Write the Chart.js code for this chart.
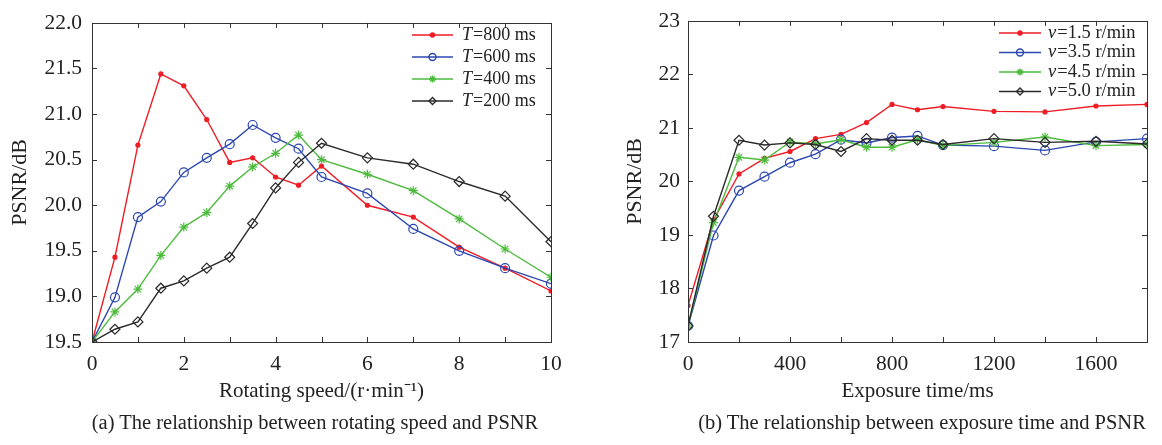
<!DOCTYPE html>
<html>
<head>
<meta charset="utf-8">
<script src="https://cdn.jsdelivr.net/npm/chart.js@4.4.1/dist/chart.umd.min.js"></script>
<style>
  body { margin: 0; background: #fff; width: 1162px; height: 445px; position: relative; overflow: hidden; font-family: "Liberation Serif", serif; }
  .box { position: absolute; top: 0; height: 412px; width: 581px; }
  #boxA { left: 0; }
  #boxB { left: 581px; }
  .cap { position: absolute; top: 411px; font-size: 20.5px; color: #222; white-space: nowrap; transform: translateX(-50%); }
</style>
</head>
<body>
<div class="box" id="boxA"><canvas id="chartA"></canvas></div>
<div class="box" id="boxB"><canvas id="chartB"></canvas></div>
<div class="cap" style="left:315px">(a) The relationship between rotating speed and PSNR</div>
<div class="cap" style="left:922px">(b) The relationship between exposure time and PSNR</div>
<script>
// (a) rotating speed vs PSNR
const speedA = [0, 0.5, 1, 1.5, 2, 2.5, 3, 3.5, 4, 4.5, 5, 6, 7, 8, 9, 10];
const t800 = [18.5, 19.43, 20.66, 21.44, 21.31, 20.94, 20.47, 20.52, 20.31, 20.22, 20.43, 20.0, 19.87, 19.54, 19.31, 19.06];
const t600 = [18.5, 18.99, 19.87, 20.04, 20.36, 20.52, 20.67, 20.88, 20.74, 20.62, 20.31, 20.13, 19.74, 19.5, 19.31, 19.14];
const t400 = [18.5, 18.83, 19.08, 19.45, 19.76, 19.92, 20.21, 20.42, 20.57, 20.77, 20.5, 20.34, 20.16, 19.85, 19.52, 19.21];
const t200 = [18.5, 18.64, 18.72, 19.09, 19.17, 19.31, 19.43, 19.8, 20.19, 20.47, 20.68, 20.52, 20.45, 20.26, 20.1, 19.6];
const legendA = ["=800 ms", "=600 ms", "=400 ms", "=200 ms"];
const yTickLabelsA = ["19.5", "19.0", "19.5", "20.0", "20.5", "21.0", "21.5", "22.0"];
const xTickLabelsA = ["0", "", "2", "", "4", "", "6", "", "8", "", "10"];

// (b) exposure time vs PSNR
const timeB = [0, 100, 200, 300, 400, 500, 600, 700, 800, 900, 1000, 1200, 1400, 1600, 1800];
const v15 = [17.68, 19.28, 20.14, 20.43, 20.56, 20.8, 20.88, 21.1, 21.44, 21.34, 21.4, 21.31, 21.3, 21.41, 21.44];
const v35 = [17.3, 18.99, 19.83, 20.09, 20.35, 20.51, 20.78, 20.72, 20.82, 20.85, 20.68, 20.66, 20.58, 20.74, 20.8];
const v45 = [17.3, 19.23, 20.45, 20.4, 20.74, 20.7, 20.78, 20.64, 20.64, 20.78, 20.67, 20.73, 20.83, 20.67, 20.69];
const v50 = [17.3, 19.35, 20.77, 20.68, 20.72, 20.69, 20.56, 20.8, 20.77, 20.77, 20.69, 20.8, 20.73, 20.75, 20.7];
const legendB = ["=1.5 r/min", "=3.5 r/min", "=4.5 r/min", "=5.0 r/min"];
const yTickLabelsB = ["17", "18", "19", "20", "21", "22", "23"];
const xTickLabelsB = ["0", "", "400", "", "800", "", "1200", "", "1600", ""];

const RED = "#ee1c25", BLUE = "#2b46b0", GREEN = "#4cbb3c", BLACK = "#2a2a2a";
const FONT = "Liberation Serif";
const TXT = "#222";

function pts(xs, ys) {
  return xs.map((x, i) => ({ x: x, y: ys[i] }));
}

// style of each series: colour + marker
const STYLES = [
  { color: RED, pointStyle: "circle", pointRadius: 2, fill: true, order: 4 },
  { color: BLUE, pointStyle: "circle", pointRadius: 4.5, fill: false, order: 3 },
  { color: GREEN, pointStyle: "star", pointRadius: 4.5, fill: false, order: 2 },
  { color: BLACK, pointStyle: "rectRot", pointRadius: 5, fill: false, order: 1 },
];

function makeDatasets(xs, series) {
  return series.map((ys, i) => {
    const s = STYLES[i];
    return {
      data: pts(xs, ys),
      borderColor: s.color,
      backgroundColor: s.fill ? s.color : "rgba(0,0,0,0)",
      pointBorderColor: s.color,
      pointBackgroundColor: s.fill ? s.color : "rgba(0,0,0,0)",
      pointStyle: s.pointStyle,
      pointRadius: s.pointRadius,
      pointHoverRadius: s.pointRadius,
      pointBorderWidth: 1.2,
      borderWidth: 1.4,
      tension: 0,
      fill: false,
      order: s.order,
    };
  });
}

// MATLAB-like box with inward ticks on all four sides
const frameTicks = {
  id: "frameTicks",
  afterDatasetsDraw(chart) {
    const { ctx, chartArea: a, scales } = chart;
    const len = 5;
    ctx.save();
    ctx.strokeStyle = "#333";
    ctx.lineWidth = 1;
    ctx.beginPath();
    scales.x.ticks.forEach(t => {
      const px = Math.round(scales.x.getPixelForValue(t.value)) + 0.5;
      ctx.moveTo(px, a.bottom); ctx.lineTo(px, a.bottom - len);
      ctx.moveTo(px, a.top); ctx.lineTo(px, a.top + len);
    });
    scales.y.ticks.forEach(t => {
      const py = Math.round(scales.y.getPixelForValue(t.value)) + 0.5;
      ctx.moveTo(a.left, py); ctx.lineTo(a.left + len, py);
      ctx.moveTo(a.right, py); ctx.lineTo(a.right - len, py);
    });
    ctx.stroke();
    ctx.strokeRect(Math.round(a.left) + 0.5, Math.round(a.top) + 0.5, Math.round(a.width), Math.round(a.height));
    ctx.restore();
  },
};

// legend with italic variable name
const mlLegend = {
  id: "mlLegend",
  afterDraw(chart, args, opts) {
    const ctx = chart.ctx;
    ctx.save();
    chart.data.datasets.forEach((ds, i) => {
      const y = opts.y + i * opts.gap;
      const x0 = opts.x;
      ctx.strokeStyle = ds.borderColor;
      ctx.lineWidth = 1.4;
      ctx.beginPath();
      ctx.moveTo(x0, y); ctx.lineTo(x0 + opts.lineLen, y);
      ctx.stroke();
      ctx.fillStyle = ds.pointBackgroundColor;
      ctx.strokeStyle = ds.pointBorderColor;
      Chart.helpers.drawPoint(ctx, { pointStyle: ds.pointStyle, radius: Math.min(ds.pointRadius, 3.5), rotation: 0, borderWidth: 1.2 }, x0 + opts.lineLen / 2, y);
      ctx.fillStyle = TXT;
      ctx.textBaseline = "middle";
      ctx.font = "italic " + opts.size + "px '" + FONT + "'";
      const tx = x0 + opts.lineLen + opts.textGap;
      ctx.fillText(opts.varName, tx, y);
      const w = ctx.measureText(opts.varName).width;
      ctx.font = opts.size + "px '" + FONT + "'";
      ctx.fillText(opts.labels[i], tx + w + 1, y);
    });
    ctx.restore();
  },
};

function makeChart(el, cfg) {
  return new Chart(el, {
    type: "line",
    data: { datasets: makeDatasets(cfg.xs, cfg.series) },
    options: {
      responsive: true,
      maintainAspectRatio: false,
      animation: false,
      layout: { padding: { left: 0, top: cfg.top, right: cfg.right, bottom: 0 } },
      plugins: {
        legend: { display: false },
        tooltip: { enabled: false },
        mlLegend: cfg.legend,
      },
      scales: {
        x: {
          type: "linear",
          min: cfg.xMin, max: cfg.xMax,
          afterFit: s => { s.height = 412 - cfg.bottom; },
          grid: { display: false, drawTicks: false },
          border: { display: false },
          ticks: {
            stepSize: cfg.xStep, autoSkip: false, maxRotation: 0, padding: 9,
            color: TXT, font: { family: FONT, size: 21.5 },
            callback: (v, i) => cfg.xLabels[i],
          },
          title: { display: true, text: cfg.xTitle, color: TXT, font: { family: FONT, size: 21 }, padding: { top: 0, bottom: 7.5 } },
        },
        y: {
          min: cfg.yMin, max: cfg.yMax,
          afterFit: s => { s.width = cfg.left; },
          grid: { display: false, drawTicks: false },
          border: { display: false },
          ticks: {
            stepSize: cfg.yStep, autoSkip: false, padding: cfg.yPad,
            color: TXT, font: { family: FONT, size: 21.5 },
            callback: (v, i) => cfg.yLabels[i],
          },
          title: { display: true, text: "PSNR/dB", color: TXT, font: { family: FONT, size: 22 }, padding: { top: cfg.yTitlePad, bottom: 0 } },
        },
      },
    },
    plugins: [frameTicks, mlLegend],
  });
}

makeChart(document.getElementById("chartA"), {
  xs: speedA,
  series: [t800, t600, t400, t200],
  xMin: 0, xMax: 10, xStep: 1, xLabels: xTickLabelsA,
  yMin: 18.5, yMax: 22, yStep: 0.5, yLabels: yTickLabelsA,
  xTitle: "Rotating speed/(r\u00b7min\u207b\u00b9)",
  left: 92, top: 17, right: 30, bottom: 342, yPad: 10, yTitlePad: 7,
  legend: { x: 412, y: 35, gap: 22, lineLen: 41, textGap: 9, size: 18, varName: "T", labels: legendA },
});

makeChart(document.getElementById("chartB"), {
  xs: timeB,
  series: [v15, v35, v45, v50],
  xMin: 0, xMax: 1800, xStep: 200, xLabels: xTickLabelsB,
  yMin: 17, yMax: 23, yStep: 1, yLabels: yTickLabelsB,
  xTitle: "Exposure time/ms",
  left: 107, top: 18, right: 15, bottom: 342, yPad: 8, yTitlePad: 41,
  legend: { x: 418, y: 33, gap: 19.5, lineLen: 42, textGap: 7, size: 18.5, varName: "v", labels: legendB },
});
</script>
</body>
</html>
